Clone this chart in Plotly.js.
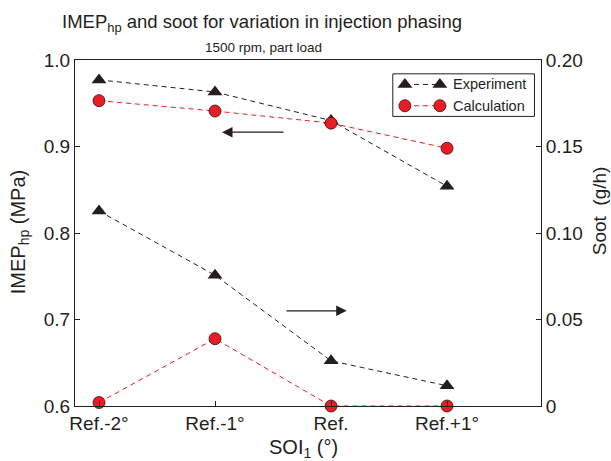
<!DOCTYPE html>
<html>
<head>
<meta charset="utf-8">
<script src="https://cdn.plot.ly/plotly-3.0.1.min.js"></script>
<style>html,body{margin:0;padding:0;background:#fff;}#chart{width:611px;height:461px;}</style>
</head>
<body>
<div id="chart"></div>
<script>
// ---- data ----
const categories = ["Ref.-2°", "Ref.-1°", "Ref.", "Ref.+1°"];
const imepExperiment = [0.977, 0.963, 0.930, 0.854];
const imepCalculation = [0.953, 0.941, 0.927, 0.898];
const sootExperiment = [0.1127, 0.0756, 0.0261, 0.0117];
const sootCalculation = [0.002, 0.0389, 0.0, 0.0];
const sootTickVals = [0, 0.05, 0.10, 0.15, 0.20];
const sootTickText = ["0", "0.05", "0.10", "0.15", "0.20"];
const legendNames = ["Experiment", "Calculation"];

// ---- styles ----
const FONT = "Liberation Sans, Arial, Helvetica, sans-serif";
const RED = "#e81c24";
const INK = "#231f20";
const expLine = {color: INK, width: 1, dash: "5px,4px"};
const calLine = {color: RED, width: 1, dash: "5px,4px"};
const expMarker = {symbol: "triangle-up", size: 13, color: INK};
const calMarker = {symbol: "circle", size: 12, color: RED, line: {color: "#3a0a0a", width: 0.8}};

const traces = [
  {x: categories, y: imepExperiment, xaxis: "x", yaxis: "y", mode: "lines+markers",
   line: expLine, marker: expMarker, cliponaxis: false, showlegend: false},
  {x: categories, y: imepCalculation, xaxis: "x", yaxis: "y", mode: "lines+markers",
   line: calLine, marker: calMarker, cliponaxis: false, showlegend: false},
  {x: categories, y: sootExperiment, xaxis: "x", yaxis: "y2", mode: "lines+markers",
   line: expLine, marker: expMarker, cliponaxis: false, showlegend: false},
  {x: categories, y: sootCalculation, xaxis: "x", yaxis: "y2", mode: "lines+markers",
   line: calLine, marker: calMarker, cliponaxis: false, showlegend: false},
  // legend samples (own small axes)
  {x: [0, 1], y: [0.75, 0.75], xaxis: "x3", yaxis: "y3", mode: "lines+markers",
   line: expLine, marker: expMarker, cliponaxis: false, showlegend: false, hoverinfo: "skip"},
  {x: [0, 1], y: [0.25, 0.25], xaxis: "x3", yaxis: "y3", mode: "lines+markers",
   line: calLine, marker: calMarker, cliponaxis: false, showlegend: false, hoverinfo: "skip"}
];

const axisCommon = {
  showline: true, linecolor: INK, linewidth: 1, showgrid: false, zeroline: false,
  ticks: "inside", ticklen: 5, tickwidth: 1, tickcolor: INK,
  tickfont: {family: FONT, size: 19, color: INK}
};

const layout = {
  width: 611, height: 461,
  margin: {l: 75, r: 70, t: 60, b: 55},
  paper_bgcolor: "#fff", plot_bgcolor: "#fff",
  font: {family: FONT, color: INK},
  showlegend: false,
  xaxis: Object.assign({}, axisCommon, {
    type: "category", range: [-0.207, 3.81], mirror: true,
    domain: [0, 1], anchor: "y"
  }),
  yaxis: Object.assign({}, axisCommon, {
    range: [0.6, 1.0], dtick: 0.1, tick0: 0.6, tickformat: ".1f", anchor: "x"
  }),
  yaxis2: Object.assign({}, axisCommon, {
    range: [0, 0.2], overlaying: "y", side: "right", anchor: "x",
    tickvals: sootTickVals, ticktext: sootTickText
  }),
  xaxis3: {domain: [0.708, 0.783], range: [0, 1], anchor: "y3", visible: false, fixedrange: true},
  yaxis3: {domain: [0.837, 0.960], range: [0, 1], anchor: "x3", visible: false, fixedrange: true},
  shapes: [
    {type: "rect", xref: "paper", yref: "paper", x0: 0.682, x1: 0.986, y0: 0.837, y1: 0.960,
     line: {color: INK, width: 1}, fillcolor: "rgba(0,0,0,0)"}
  ],
  annotations: [
    {text: "IMEP<sub>hp</sub> and soot for variation in injection phasing", xref: "paper", yref: "paper",
     x: 0.401, y: 1.108, xanchor: "center", yanchor: "middle", showarrow: false,
     font: {family: FONT, size: 18.5, color: INK}},
    {text: "1500 rpm, part load", xref: "paper", yref: "paper",
     x: 0.405, y: 1.036, xanchor: "center", yanchor: "middle", showarrow: false,
     font: {family: FONT, size: 13.5, color: INK}},
    {text: "IMEP<sub>hp</sub> (MPa)", xref: "paper", yref: "paper", textangle: -90,
     x: (19 - 75) / 466, y: (406 - 232) / 346.5, xanchor: "center", yanchor: "middle", showarrow: false,
     font: {family: FONT, size: 20, color: INK}},
    {text: "Soot  (g/h)", xref: "paper", yref: "paper", textangle: -90,
     x: (599 - 75) / 466, y: (406 - 211) / 346.5, xanchor: "center", yanchor: "middle", showarrow: false,
     font: {family: FONT, size: 19, color: INK}},
    {text: "SOI<sub>1</sub> (°)", xref: "paper", yref: "paper",
     x: (303 - 75) / 466, y: (406 - 449) / 346.5, xanchor: "center", yanchor: "middle", showarrow: false,
     font: {family: FONT, size: 20, color: INK}},
    {text: legendNames[0], xref: "paper", yref: "paper",
     x: (451 - 75) / 466, y: (406 - 84) / 346.5, xanchor: "left", yanchor: "middle", showarrow: false,
     font: {family: FONT, size: 14.5, color: INK}},
    {text: legendNames[1], xref: "paper", yref: "paper",
     x: (451 - 75) / 466, y: (406 - 105.7) / 346.5, xanchor: "left", yanchor: "middle", showarrow: false,
     font: {family: FONT, size: 14.5, color: INK}},
    // direction arrows
    {xref: "x", yref: "y", axref: "x", ayref: "y", x: 1.06, y: 0.9166, ax: 1.603, ay: 0.9166,
     text: "", showarrow: true, arrowhead: 2, arrowsize: 1.5, arrowwidth: 1.4, arrowcolor: INK},
    {xref: "x", yref: "y2", axref: "x", ayref: "y2", x: 2.135, y: 0.055, ax: 1.603, ay: 0.055,
     text: "", showarrow: true, arrowhead: 2, arrowsize: 1.5, arrowwidth: 1.4, arrowcolor: INK}
  ]
};

Plotly.newPlot("chart", traces, layout, {displayModeBar: false, staticPlot: true});
</script>
</body>
</html>
